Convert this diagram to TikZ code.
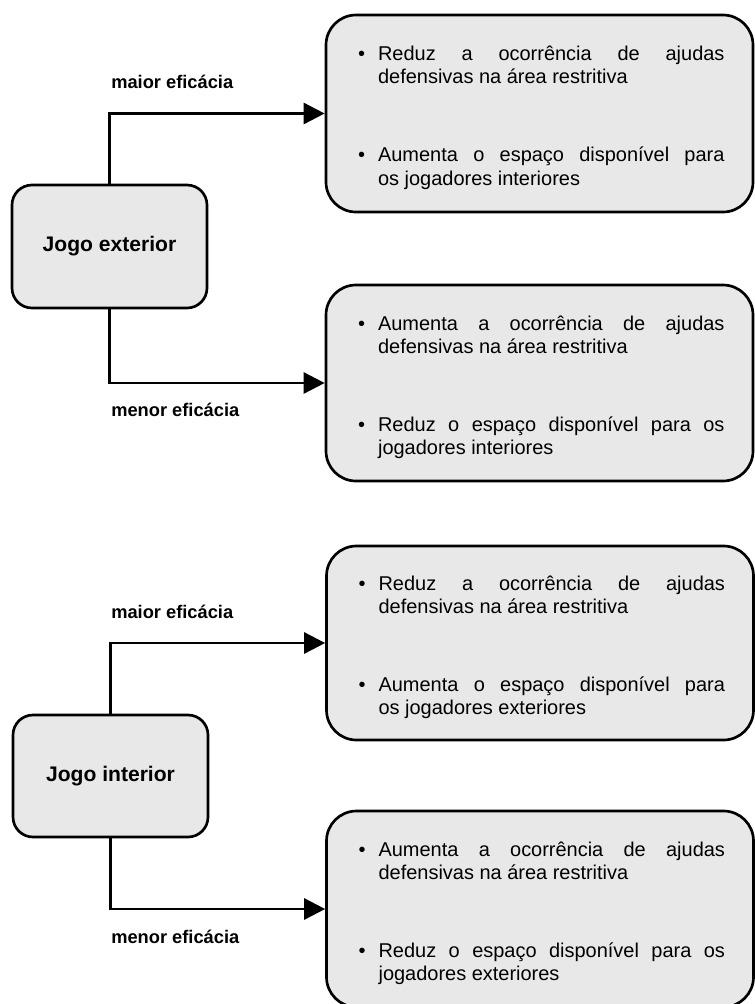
\documentclass[tikz,border=0pt]{standalone}
\usepackage{fontspec}
\setmainfont{Liberation Sans}
\usepackage{tikz}
\usetikzlibrary{arrows.meta}

\newcommand{\ponto}[1]{\par\noindent\leftskip=0.09cm\hangindent=0.5cm\hangafter=1%
    \tolerance=10000\hbadness=10000\makebox[0.5cm][l]{\textbullet}#1\par}

\tikzset{
    jogo/.style={draw, rounded corners=0.5cm, fill=black!9,
        minimum width=4.875cm, minimum height=3.075cm,
        font=\fontsize{15pt}{18pt}\selectfont\bfseries},
    efeito/.style={draw, rounded corners=0.75cm, fill=black!9,
        text width=9.25cm, inner xsep=0.7125cm, minimum height=4.9cm, align=justify,
        font=\fontsize{14.2pt}{16.4pt}\selectfont},
    rotulo/.style={anchor=west, inner sep=0pt,
        font=\fontsize{13pt}{15pt}\selectfont\bfseries},
    seta/.style={-{Triangle[length=15pt,width=15pt]}}
}

\begin{document}
\begin{tikzpicture}
    \clip (0,0) rectangle (18.875,-25.1);
    \begin{scope}[line width=1.9pt]

    % jogo exterior
    \node [jogo] (ext) at (2.7375,-6.1625) {Jogo exterior};
    \node [efeito, minimum height=4.925cm] (r1) at (13.4875,-2.8375)
        {\ponto{Reduz a ocorrência de ajudas\linebreak defensivas na área restritiva}\vspace{1.375cm}%
         \ponto{Aumenta o espaço disponível para\linebreak os jogadores interiores}};
    \node [efeito] (r2) at (13.4875,-9.575)
        {\ponto{Aumenta a ocorrência de ajudas\linebreak defensivas na área restritiva}\vspace{1.375cm}%
         \ponto{Reduz o espaço disponível para os\linebreak jogadores interiores}};
    \draw [seta] (ext.north) |- (r1.west);
    \draw [seta] (ext.south) |- (r2.west);
    \node [rotulo] (maior1) at (2.75,-2.05)  {maior eficácia};
    \node [rotulo] (menor1) at (2.75,-10.25) {menor eficácia};

    % jogo interior
    \node [jogo, minimum height=3.05cm] (int) at (2.7625,-19.4) {Jogo interior};
    \node [efeito, minimum height=4.85cm] (r3) at (13.5,-16.075)
        {\ponto{Reduz a ocorrência de ajudas\linebreak defensivas na área restritiva}\vspace{1.375cm}%
         \ponto{Aumenta o espaço disponível para\linebreak os jogadores exteriores}};
    \node [efeito] (r4) at (13.5,-22.725)
        {\ponto{Aumenta a ocorrência de ajudas\linebreak defensivas na área restritiva}\vspace{1.375cm}%
         \ponto{Reduz o espaço disponível para os\linebreak jogadores exteriores}};
    \draw [seta] (int.north) |- (r3.west);
    \draw [seta] (int.south) |- (r4.west);
    \node [rotulo] (maior2) at (2.75,-15.3)   {maior eficácia};
    \node [rotulo] (menor2) at (2.75,-23.425) {menor eficácia};

    \end{scope}
\end{tikzpicture}
\end{document}
